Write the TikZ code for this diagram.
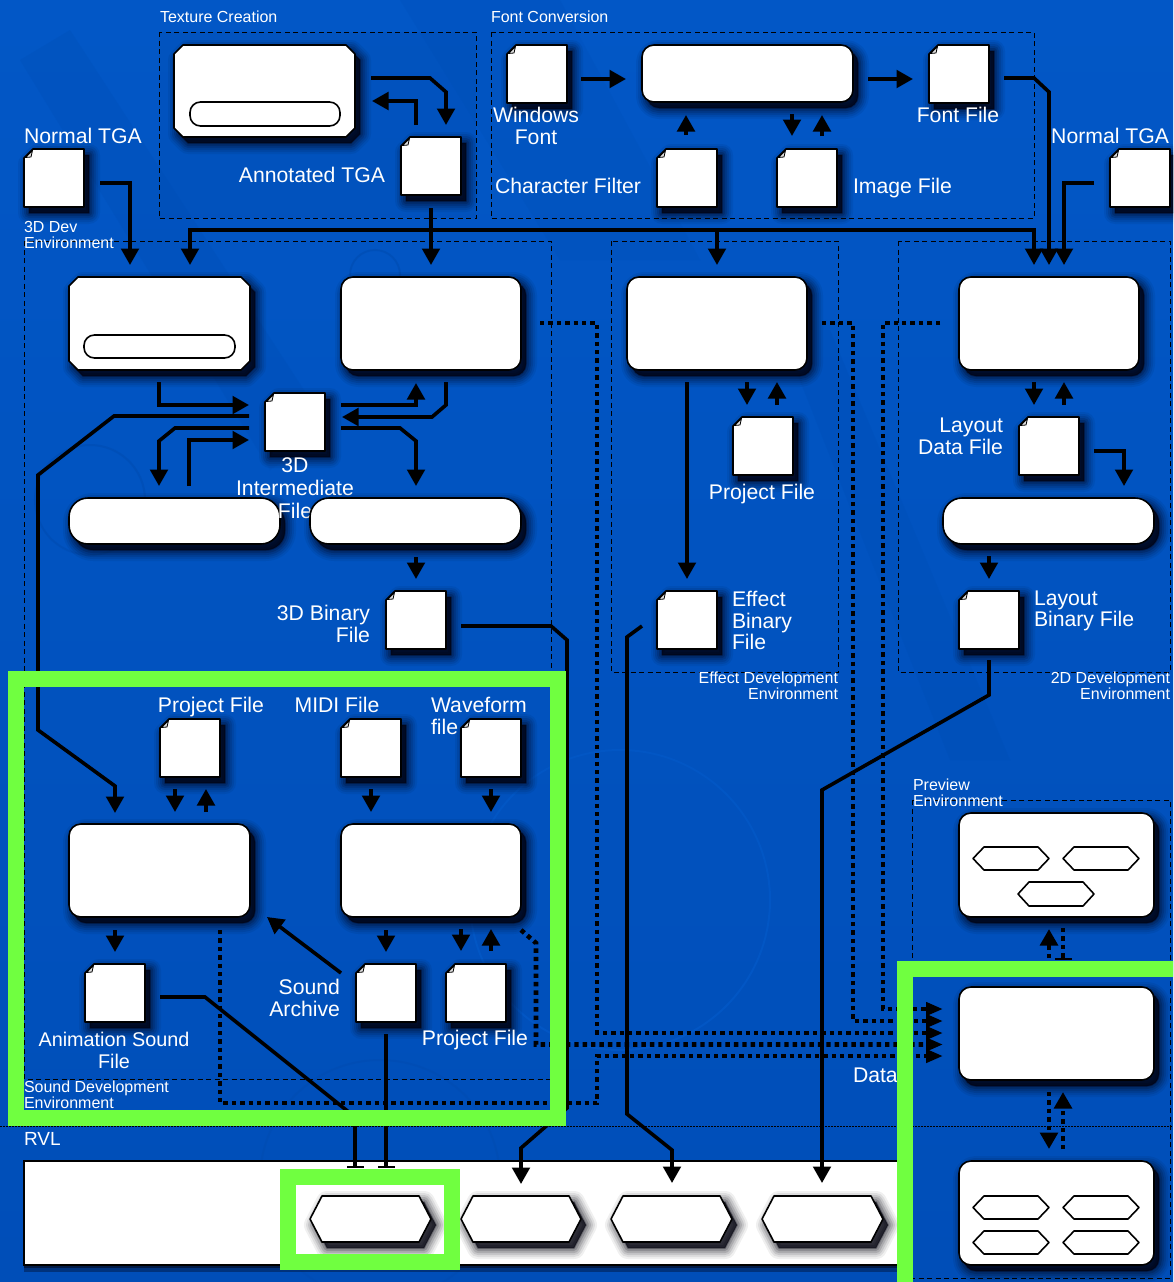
\documentclass[tikz,border=0pt]{standalone}
\usepackage{fontspec}
\setmainfont{Liberation Sans}
\usetikzlibrary{arrows.meta,calc,fadings}
\definecolor{bgtop}{RGB}{2,87,198}
\definecolor{bgbot}{RGB}{0,78,184}
\definecolor{bgdark}{RGB}{0,76,178}
\definecolor{bglight}{RGB}{2,86,196}
\definecolor{neon}{RGB}{112,255,64}
\definecolor{shc}{RGB}{0,0,12}
\tikzset{
 shadowlayer/.style 2 args={preaction={draw=shc,fill=shc,line width=#1pt,line join=round,opacity=#2,transform canvas={xshift=5pt,yshift=-6pt}}},
 softshadow/.style={shadowlayer={22}{.06},shadowlayer={18}{.08},shadowlayer={14}{.10},shadowlayer={10}{.13},shadowlayer={6}{.17},shadowlayer={2}{.25},
  preaction={fill=shc,opacity=.4,transform canvas={xshift=5pt,yshift=-6pt}}},
 shapeline/.style={draw=black,fill=white,line width=1.6pt,line join=round},
 rbox/.style={shapeline,softshadow,rectangle,rounded corners=12pt,inner sep=0pt,outer sep=0pt,anchor=north west},
 pillbox/.style={shapeline,softshadow,rectangle,rounded corners=19pt,inner sep=0pt,outer sep=0pt,anchor=north west},
 innerpill/.style={shapeline,rectangle,rounded corners=10.5pt,inner sep=0pt,outer sep=0pt,anchor=north west},
 ghost/.style={rectangle,inner sep=0pt,outer sep=0pt,anchor=north west},
 frame/.style={draw=black,line width=1pt,dash pattern=on 5pt off 3.5pt},
 mlbl/.style={text=white,inner sep=0pt,outer sep=0pt,font=\fontsize{21.2}{21.5}\selectfont},
 lbl/.style={mlbl,text height=15pt,text depth=1pt},
 slbl/.style={text=white,inner sep=0pt,outer sep=0pt,font=\fontsize{16}{16.2}\selectfont},
 arr/.style={draw=black,line width=3.6pt,-{Triangle[width=17.5pt,length=16.5pt]}},
 tee/.style={draw=black,line width=3.6pt,-{Bar[width=17pt,line width=1.8pt]}},
 dots/.style={draw=black,line width=4.6pt,dash pattern=on 4.4pt off 4pt},
 darr/.style={dots,-{Triangle[width=13pt,length=17pt]}},
 darrb/.style={dots,-{Triangle[width=17.5pt,length=16.5pt]}},
 dtee/.style={dots,-{Bar[width=17pt,line width=1.8pt]}},
 neonrect/.style={draw=neon,line width=16pt,miter limit=10},
}
% document icon: name, left, top
\newcommand{\docfile}[3]{%
 \node[ghost,minimum width=60pt,minimum height=58pt] (#1) at (#2,#3) {};
 \draw[shapeline,softshadow] ($(#1.north west)+(0,9)$) -- ($(#1.north west)+(9,0)$) -- (#1.north east) -- (#1.south east) -- (#1.south west) -- cycle;
 \draw[draw=black,fill=black!12,line width=.8pt] ($(#1.north west)+(1.5,8.5)$) -- ($(#1.north west)+(8.5,1.5)$) -- ($(#1.north west)+(7,8)$) -- cycle;
}
% hexagon: name, left, top, width, height, notch
\newcommand{\hexnode}[6]{%
 \node[ghost,minimum width=#4pt,minimum height=#5pt] (#1) at (#2,#3) {};
 \draw[shapeline,softshadow] (#1.west) -- ($(#1.north west)+(#6,0)$) -- ($(#1.north east)+(-#6,0)$) -- (#1.east) -- ($(#1.south east)+(-#6,0)$) -- ($(#1.south west)+(#6,0)$) -- cycle;
}
\newcommand{\hexsmall}[6]{%
 \node[ghost,minimum width=#4pt,minimum height=#5pt] (#1) at (#2,#3) {};
 \draw[shapeline] (#1.west) -- ($(#1.north west)+(#6,0)$) -- ($(#1.north east)+(-#6,0)$) -- (#1.east) -- ($(#1.south east)+(-#6,0)$) -- ($(#1.south west)+(#6,0)$) -- cycle;
}
% chamfered box: name, left, top, width, height
\newcommand{\chambox}[5]{%
 \node[ghost,minimum width=#4pt,minimum height=#5pt] (#1) at (#2,#3) {};
 \draw[shapeline,softshadow] ($(#1.north west)+(0,9)$) -- ($(#1.north west)+(9,0)$) -- ($(#1.north east)+(-9,0)$) -- ($(#1.north east)+(0,9)$) -- ($(#1.south east)+(0,-9)$) -- ($(#1.south east)+(-9,0)$) -- ($(#1.south west)+(9,0)$) -- ($(#1.south west)+(0,-9)$) -- cycle;
}
\begin{document}
\begin{tikzpicture}[x=1pt,y=-1pt]
\useasboundingbox (0,0) rectangle (1173,1282);
\clip (0,0) rectangle (1173,1282);
% background
\fill[top color=bgtop,bottom color=bgbot] (0,0) rectangle (1173,1282);
\fill[bgdark,opacity=.25] (20,60) -- (70,30) -- (330,430) -- (270,470) -- cycle;
\fill[bgdark,opacity=.2] (400,0) -- (560,0) -- (700,260) -- (560,260) -- cycle;
\fill[bgdark,opacity=.35] (159,32) rectangle (476,218);
\draw[bglight,line width=2pt] (620,900) circle (150);
\draw[bgdark,opacity=.6,line width=2pt] (380,1180) circle (120);
\draw[bgdark,opacity=.6,line width=2pt] (90,500) circle (55);
\draw[bgdark,opacity=.6,line width=2pt] (375,275) circle (25);
\fill[bgdark,opacity=.25] (780,330) -- (830,330) -- (1010,760) -- (950,760) -- cycle;
% frames
\draw[frame] (159,32) rectangle (476,218);
\draw[frame] (491,32) rectangle (1034,218);
\draw[frame] (24,241) rectangle (551,1079);
\draw[frame] (611,241) rectangle (838,672);
\draw[frame] (898,241) rectangle (1170,672);
\draw[frame] (912,800) rectangle (1170,1278);
\draw[draw=black,line width=1pt,dash pattern=on 1.5pt off 1.5pt] (0,1126) -- (1173,1126);
% RVL bar
\fill[shc,opacity=.35] (24,1265) rectangle (905,1272);
\fill[shc,opacity=.45] (24,1265) rectangle (905,1268);
\node[draw=black,fill=white,line width=1.5pt,rectangle,inner sep=0,outer sep=0,anchor=north west,minimum width=880pt,minimum height=104pt] (rvlbar) at (24,1161) {};
% coordinates for connector free ends
\coordinate (c01a) at (100,183); \coordinate (c01b) at (130,265);
\coordinate (c02a) at (371,78); \coordinate (c02b) at (446,125);
\coordinate (c03a) at (416,125); \coordinate (c03b) at (372,101);
\coordinate (c04a) at (431,208); \coordinate (c04b) at (431,265);
\coordinate (c05a) at (431,230); \coordinate (c05b) at (190,265); \coordinate (c05c) at (1034,265); \coordinate (c05d) at (717,230); \coordinate (c05e) at (717,265);
\coordinate (c06a) at (1004,78); \coordinate (c06b) at (1049,265);
\coordinate (c07a) at (1094,183); \coordinate (c07b) at (1064,265);
\coordinate (c08a) at (581,79); \coordinate (c08b) at (626,79);
\coordinate (c09a) at (868,79); \coordinate (c09b) at (913,79);
\coordinate (c10a) at (686,135); \coordinate (c10b) at (686,115);
\coordinate (c11a) at (792,114); \coordinate (c11b) at (792,136);
\coordinate (c12a) at (822,136); \coordinate (c12b) at (822,115);
\coordinate (c13a) at (159,382); \coordinate (c13b) at (249,405);
\coordinate (c14a) at (341,405); \coordinate (c14b) at (416,383);
\coordinate (c15a) at (446,382); \coordinate (c15b) at (342,417);
\coordinate (c16a) at (341,428); \coordinate (c16b) at (416,486);
\coordinate (c17a) at (249,428); \coordinate (c17b) at (159,486);
\coordinate (c18a) at (189,486); \coordinate (c18b) at (249,440);
\coordinate (c19a) at (249,416); \coordinate (c19b) at (115,813);
\coordinate (c20a) at (416,557); \coordinate (c20b) at (416,579);
\coordinate (c21a) at (461,626); \coordinate (c21b) at (521,1184);
\coordinate (c22a) at (175,789); \coordinate (c22b) at (175,812);
\coordinate (c23a) at (206,812); \coordinate (c23b) at (206,789);
\coordinate (c24a) at (371,789); \coordinate (c24b) at (371,812);
\coordinate (c25a) at (491,789); \coordinate (c25b) at (491,812);
\coordinate (c26a) at (115,930); \coordinate (c26b) at (115,952);
\coordinate (c27a) at (386,930); \coordinate (c27b) at (386,952);
\coordinate (c28a) at (461,929); \coordinate (c28b) at (461,951);
\coordinate (c29a) at (491,951); \coordinate (c29b) at (491,929);
\coordinate (c30a) at (341,973); \coordinate (c30b) at (267,917);
\coordinate (c31a) at (160,997); \coordinate (c31b) at (355,1168);
\coordinate (c32a) at (386,1034); \coordinate (c32b) at (386,1168);
\coordinate (c33a) at (687,382); \coordinate (c33b) at (687,579);
\coordinate (c34a) at (747,382); \coordinate (c34b) at (747,405);
\coordinate (c35a) at (777,405); \coordinate (c35b) at (777,382);
\coordinate (c36a) at (1034,382); \coordinate (c36b) at (1034,405);
\coordinate (c37a) at (1064,405); \coordinate (c37b) at (1064,382);
\coordinate (c38a) at (1094,451); \coordinate (c38b) at (1124,486);
\coordinate (c39a) at (989,556); \coordinate (c39b) at (989,579);
\coordinate (c40a) at (642,626); \coordinate (c40b) at (672,1183);
\coordinate (c41a) at (989,660); \coordinate (c41b) at (822,1183);
\coordinate (d1a) at (940,323); \coordinate (d1b) at (943,1009);
\coordinate (d2a) at (822,323); \coordinate (d2b) at (943,1021);
\coordinate (d3a) at (540,323); \coordinate (d3b) at (943,1033);
\coordinate (d4a) at (521,930); \coordinate (d4b) at (943,1044.5);
\coordinate (d5a) at (220,930); \coordinate (d5b) at (943,1056);
\coordinate (d6a) at (1049,975); \coordinate (d6b) at (1049,929);
\coordinate (d7a) at (1063,928); \coordinate (d7b) at (1063,960);
\coordinate (d8a) at (1049,1092); \coordinate (d8b) at (1049,1149);
\coordinate (d9a) at (1063,1149); \coordinate (d9b) at (1063,1092);
% dotted connectors
\draw[darr] (d1a) -- (883,323) -- (883,1009) -- (d1b);
\draw[darr] (d2a) -- (853,323) -- (853,1021) -- (d2b);
\draw[darr] (d3a) -- (597,323) -- (597,1033) -- (d3b);
\draw[darr] (d4a) -- (536,943) -- (536,1044.5) -- (d4b);
\draw[darr] (d5a) -- (220,1103) -- (597,1103) -- (597,1056) -- (d5b);
\draw[darrb] (d6a) -- (d6b);
\draw[dtee] (d7a) -- (d7b);
\draw[darrb] (d8a) -- (d8b);
\draw[darrb] (d9a) -- (d9b);
% solid connectors
\draw[arr] (c01a) -- (130,183) -- (c01b);
\draw[arr] (c02a) -- (430,78) -- (446,92) -- (c02b);
\draw[arr] (c03a) -- (416,101) -- (c03b);
\draw[arr] (c04a) -- (c04b);
\draw[arr] (c05a) -- (190,230) -- (c05b);
\draw[arr] (c05a) -- (1034,230) -- (c05c);
\draw[arr] (c05d) -- (c05e);
\draw[arr] (c06a) -- (1034,78) -- (1049,92) -- (c06b);
\draw[arr] (c07a) -- (1064,183) -- (c07b);
\draw[arr] (c08a) -- (c08b);
\draw[arr] (c09a) -- (c09b);
\draw[arr] (c10a) -- (c10b);
\draw[arr] (c11a) -- (c11b);
\draw[arr] (c12a) -- (c12b);
\draw[arr] (c13a) -- (159,405) -- (c13b);
\draw[arr] (c14a) -- (416,405) -- (c14b);
\draw[arr] (c15a) -- (446,405) -- (432,417) -- (c15b);
\draw[arr] (c16a) -- (400,428) -- (416,441) -- (c16b);
\draw[arr] (c17a) -- (175,428) -- (159,441) -- (c17b);
\draw[arr] (c18a) -- (189,440) -- (c18b);
\draw[arr] (c19a) -- (114,416) -- (38,475) -- (38,730) -- (115,786) -- (c19b);
\draw[arr] (c20a) -- (c20b);
\draw[arr] (c21a) -- (551,626) -- (567,640) -- (567,1108) -- (521,1148) -- (c21b);
\draw[arr] (c22a) -- (c22b);
\draw[arr] (c23a) -- (c23b);
\draw[arr] (c24a) -- (c24b);
\draw[arr] (c25a) -- (c25b);
\draw[arr] (c26a) -- (c26b);
\draw[arr] (c27a) -- (c27b);
\draw[arr] (c28a) -- (c28b);
\draw[arr] (c29a) -- (c29b);
\draw[arr] (c30a) -- (c30b);
\draw[tee] (c31a) -- (205,997) -- (355,1117) -- (c31b);
\draw[tee] (c32a) -- (c32b);
\draw[arr] (c33a) -- (c33b);
\draw[arr] (c34a) -- (c34b);
\draw[arr] (c35a) -- (c35b);
\draw[arr] (c36a) -- (c36b);
\draw[arr] (c37a) -- (c37b);
\draw[arr] (c38a) -- (1124,451) -- (c38b);
\draw[arr] (c39a) -- (c39b);
\draw[arr] (c40a) -- (627,637) -- (627,1114) -- (672,1150) -- (c40b);
\draw[arr] (c41a) -- (989,695) -- (822,790) -- (c41b);
% process boxes
\chambox{bTex}{174}{45}{181}{92}
\node[innerpill,minimum width=150pt,minimum height=24pt] (pTex) at (190,102) {};
\node[rbox,minimum width=211pt,minimum height=57pt] (bFont) at (642,45) {};
\chambox{bThree}{69}{277}{181}{93}
\node[innerpill,minimum width=151pt,minimum height=23pt] (pThree) at (84,335) {};
\node[rbox,minimum width=180pt,minimum height=93pt] (bMod) at (341,277) {};
\node[rbox,minimum width=180pt,minimum height=93pt] (bEff) at (627,277) {};
\node[rbox,minimum width=180pt,minimum height=93pt] (bLay) at (959,277) {};
\node[pillbox,minimum width=211pt,minimum height=46pt] (bPillL) at (69,498) {};
\docfile{fInter}{265}{393}
\node[mlbl,align=center,font=\fontsize{21.2}{23}\selectfont] (tInter) at (295,488) {3D\\Intermediate\\File};
\node[pillbox,minimum width=211pt,minimum height=46pt] (bPillM) at (310,498) {};
\node[pillbox,minimum width=211pt,minimum height=46pt] (bPillR) at (943,498) {};
\node[rbox,minimum width=181pt,minimum height=93pt] (bSndL) at (69,824) {};
\node[rbox,minimum width=180pt,minimum height=93pt] (bSndR) at (341,824) {};
\node[rbox,minimum width=195pt,minimum height=104pt] (bPrev) at (959,813) {};
\node[rbox,minimum width=195pt,minimum height=93pt] (bData) at (959,987) {};
\node[rbox,minimum width=195pt,minimum height=104pt] (bTgt) at (959,1161) {};
\hexsmall{hP1}{973}{847}{76}{23}{11}
\hexsmall{hP2}{1063}{847}{76}{23}{11}
\hexsmall{hP3}{1018}{882}{76}{24}{11}
\hexsmall{hT1}{973}{1196}{76}{23}{11}
\hexsmall{hT2}{1063}{1196}{76}{23}{11}
\hexsmall{hT3}{973}{1231}{76}{23}{11}
\hexsmall{hT4}{1063}{1231}{76}{23}{11}
\hexnode{hSnd}{310}{1196}{121}{46}{12}
\hexnode{hGcd}{461}{1196}{120}{46}{12}
\hexnode{hFx}{611}{1196}{121}{46}{12}
\hexnode{hLyt}{762}{1196}{121}{46}{12}
% files
\docfile{fTgaL}{24}{149}
\docfile{fAnn}{401}{137}
\docfile{fWin}{507}{45}
\docfile{fChar}{657}{149}
\docfile{fImg}{777}{149}
\docfile{fFont}{929}{45}
\docfile{fTgaR}{1110}{149}
\docfile{f3dBin}{386}{591}
\docfile{fPrjE}{733}{417}
\docfile{fLay}{1019}{417}
\docfile{fEffBin}{657}{591}
\docfile{fLayBin}{959}{591}
\docfile{fPrjS}{160}{719}
\docfile{fMidi}{341}{719}
\docfile{fWave}{461}{719}
\docfile{fAnim}{85}{964}
\docfile{fArch}{356}{964}
\docfile{fPrjS2}{446}{964}
% labels
\node[slbl,anchor=west] (tTex) at (160,16.5) {Texture Creation};
\node[slbl,anchor=west] (tFont) at (491,16.5) {Font Conversion};
\node[lbl,anchor=west] (tTgaL) at (24,136) {Normal TGA};
\node[lbl,anchor=east] (tAnn) at (385,175) {Annotated TGA};
\node[mlbl,align=center] (tWin) at (536,126) {Windows\\Font};
\node[lbl,anchor=west] (tChar) at (495,186) {Character Filter};
\node[lbl,anchor=west] (tImg) at (853,186) {Image File};
\node[lbl] (tFontF) at (958,115) {Font File};
\node[lbl,anchor=east] (tTgaR) at (1169,136) {Normal TGA};
\node[slbl,anchor=west,align=left] (t3dEnv) at (24,235) {3D Dev\\Environment};
\node[lbl] (tPrjE) at (762,492) {Project File};
\node[mlbl,anchor=east,align=right] (tLay) at (1003,436.5) {Layout\\Data File};
\node[mlbl,anchor=east,align=right] (t3dBin) at (370,624) {3D Binary\\File};
\node[mlbl,anchor=west,align=left] (tEffBin) at (732,620.5) {Effect\\Binary\\File};
\node[mlbl,anchor=west,align=left] (tLayBin) at (1034,611) {Layout\\Binary File};
\node[slbl,anchor=east,align=right] (tEffEnv) at (838,686) {Effect Development\\Environment};
\node[slbl,anchor=east,align=right] (t2dEnv) at (1170,686) {2D Development\\Environment};
\node[slbl,anchor=west,align=left] (tPrevEnv) at (913,793) {Preview\\Environment};
\node[lbl] (tPrjS) at (211,705) {Project File};
\node[lbl] (tMidi) at (337,705) {MIDI File};
\node[mlbl,anchor=west,align=left] (tWave) at (431,716) {Waveform\\file};
\node[mlbl,align=center,font=\fontsize{19.8}{21.5}\selectfont] (tAnim) at (114,1050.5) {Animation Sound\\File};
\node[mlbl,anchor=east,align=right] (tArch) at (340,998) {Sound\\Archive};
\node[lbl] (tPrjS2) at (475,1038) {Project File};
\node[slbl,anchor=west,align=left] (tSndEnv) at (24,1094.5) {Sound Development\\Environment};
\node[slbl,anchor=west,font=\fontsize{19}{20}\selectfont] (tRvl) at (24,1139) {RVL};
\node[lbl,anchor=west] (tData) at (853,1075) {Data};
% highlight rectangles
\draw[neonrect] (16,678.5) rectangle (558,1117.5);
\draw[neonrect] (288,1177) rectangle (452,1262);
\draw[neonrect] (905,969) rectangle (1200,1310);
\end{tikzpicture}
\end{document}
